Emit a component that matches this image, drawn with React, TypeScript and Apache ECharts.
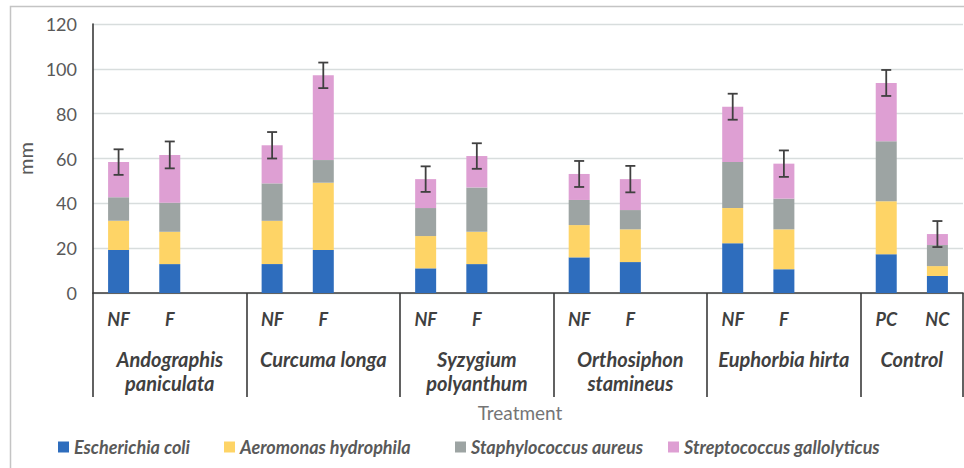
import React, { useEffect, useRef } from 'react';
import * as echarts from 'echarts';

// category structure: 6 treatment groups, each with sub-categories (blank slot separates groups)
const slotLabels = ['NF', 'F', '', 'NF', 'F', '', 'NF', 'F', '', 'NF', 'F', '', 'NF', 'F', '', 'PC', 'NC'];
const groupNames = [
  'Andographis\npaniculata',
  'Curcuma longa',
  'Syzygium\npolyanthum',
  'Orthosiphon\nstamineus',
  'Euphorbia hirta',
  'Control',
];
const groupStarts = [0, 3, 6, 9, 12, 15];

const seriesNames = ['Escherichia coli', 'Aeromonas hydrophila', 'Staphylococcus aureus', 'Streptococcus gallolyticus'];
const seriesColors = ['#2E6DBD', '#FED466', '#9DA4A3', '#DE9FD3'];

const ecoli = [19.2, 12.9, null, 12.9, 19.2, null, 11.0, 12.9, null, 15.9, 13.8, null, 22.2, 10.6, null, 17.3, 7.6];
const aeromonas = [13.0, 14.4, null, 19.3, 30.0, null, 14.4, 14.4, null, 14.4, 14.6, null, 15.7, 17.8, null, 23.6, 4.4];
const staph = [10.5, 13.0, null, 16.7, 10.1, null, 12.5, 19.8, null, 11.2, 8.6, null, 20.5, 13.7, null, 26.8, 9.4];
const strep = [15.7, 21.3, null, 17.0, 37.8, null, 12.9, 14.0, null, 11.6, 13.8, null, 24.7, 15.6, null, 26.0, 4.9];
const errors = [5.7, 6.0, null, 5.9, 5.7, null, 5.7, 5.7, null, 5.8, 5.9, null, 5.8, 5.9, null, 5.8, 5.8];

const yTicks = { min: 0, max: 120, interval: 20 };

const FONT = 'Lato';
const DARK = '#3a3a3a';
const legendLefts = [58, 224, 455, 668];

export default function App() {
  const ref = useRef<HTMLDivElement>(null);

  useEffect(() => {
    if (!ref.current) return;
    const chart = echarts.init(ref.current, null, { renderer: 'svg' });

    const stacks = [ecoli, aeromonas, staph, strep];
    const nSlots = slotLabels.length;
    const groupBounds = [...groupStarts, nSlots];
    const groupCenters = groupStarts.map((s, i) => (s + groupBounds[i + 1]) / 2);

    const errData: number[][] = [];
    for (let i = 0; i < nSlots; i++) {
      if (errors[i] == null) continue;
      const total = stacks.reduce((acc, arr) => acc + (arr[i] as number), 0);
      errData.push([i, total, errors[i] as number]);
    }

    const legendText = {
      fontFamily: FONT,
      fontStyle: 'italic',
      fontWeight: 'bold',
      fontSize: 18,
      color: '#595959',
    };

    const option: any = {
      animation: false,
      textStyle: { fontFamily: FONT },
      graphic: [
        {
          type: 'rect',
          shape: { x: 10.5, y: 6.5, width: 1000, height: 1000 },
          style: { fill: 'none', stroke: '#c4c4c4', lineWidth: 1.5 },
          silent: true,
        },
      ],
      grid: { left: 93, top: 24, right: 1, bottom: 175, containLabel: false },
      legend: seriesNames.map((name, k) => ({
        data: [name],
        left: legendLefts[k],
        top: 438,
        icon: 'rect',
        itemWidth: 11,
        itemHeight: 11,
        itemGap: 0,
        padding: 0,
        textStyle: legendText,
      })),
      xAxis: [
        {
          type: 'category',
          position: 'bottom',
          data: slotLabels.map((_, i) => 'slot' + i),
          axisLine: { show: true, lineStyle: { color: DARK, width: 1.6 } },
          axisTick: { show: false },
          axisLabel: {
            interval: 0,
            margin: 16,
            formatter: (_v: string, idx: number) => slotLabels[idx],
            fontFamily: FONT,
            fontStyle: 'italic',
            fontWeight: 'bold',
            fontSize: 18,
            lineHeight: 20,
            color: '#404040',
          },
          splitLine: { show: false },
        },
        {
          type: 'value',
          position: 'bottom',
          min: 0,
          max: nSlots,
          axisLine: { show: false },
          splitLine: { show: false },
          axisTick: {
            show: true,
            customValues: groupBounds,
            length: 104,
            lineStyle: { color: DARK, width: 1.6 },
          },
          axisLabel: {
            customValues: groupCenters,
            margin: 54,
            formatter: (v: number) => {
              let best = 0;
              groupCenters.forEach((c, i) => {
                if (Math.abs(c - v) < Math.abs(groupCenters[best] - v)) best = i;
              });
              return groupNames[best];
            },
            fontFamily: FONT,
            fontStyle: 'italic',
            fontWeight: 'bold',
            fontSize: 20,
            lineHeight: 24,
            color: '#404040',
            showMinLabel: true,
            showMaxLabel: true,
          },
          name: 'Treatment',
          nameLocation: 'middle',
          nameGap: 110,
          nameTextStyle: { fontFamily: FONT, fontSize: 19, color: '#757575', padding: [0, 16, 0, 0] },
        },
      ],
      yAxis: {
        type: 'value',
        min: yTicks.min,
        max: yTicks.max,
        interval: yTicks.interval,
        axisLine: { show: true, lineStyle: { color: DARK, width: 1.6 } },
        axisTick: { show: false },
        axisLabel: { margin: 16, fontFamily: FONT, fontSize: 18, color: '#595959' },
        splitLine: { show: true, lineStyle: { color: '#d8dddd', width: 1.4 } },
        name: 'mm',
        nameLocation: 'middle',
        nameGap: 58,
        nameTextStyle: { fontFamily: FONT, fontSize: 20, color: '#595959' },
      },
      series: [
        ...stacks.map((arr, k) => ({
          name: seriesNames[k],
          type: 'bar',
          stack: 'total',
          xAxisIndex: 0,
          yAxisIndex: 0,
          barWidth: 21,
          data: arr.map((v) => (v == null ? '-' : v)),
          itemStyle: { color: seriesColors[k] },
        })),
        {
          type: 'custom',
          name: 'error',
          xAxisIndex: 0,
          yAxisIndex: 0,
          z: 10,
          data: errData,
          encode: { x: 0, y: 1 },
          renderItem: (_params: any, api: any) => {
            const x = api.value(0);
            const top = api.value(1);
            const e = api.value(2);
            const hi = api.coord([x, top + e]);
            const lo = api.coord([x, top - e]);
            const half = 5;
            const style = { stroke: '#404040', lineWidth: 1.8 };
            return {
              type: 'group',
              children: [
                { type: 'line', shape: { x1: hi[0], y1: hi[1], x2: lo[0], y2: lo[1] }, style },
                { type: 'line', shape: { x1: hi[0] - half, y1: hi[1], x2: hi[0] + half, y2: hi[1] }, style },
                { type: 'line', shape: { x1: lo[0] - half, y1: lo[1], x2: lo[0] + half, y2: lo[1] }, style },
              ],
            };
          },
        },
      ],
    };

    chart.setOption(option);
    return () => chart.dispose();
  }, []);

  return (
    <div
      ref={ref}
      style={{ position: 'absolute', left: 0, top: 0, width: 964, height: 468, background: '#ffffff' }}
    />
  );
}
